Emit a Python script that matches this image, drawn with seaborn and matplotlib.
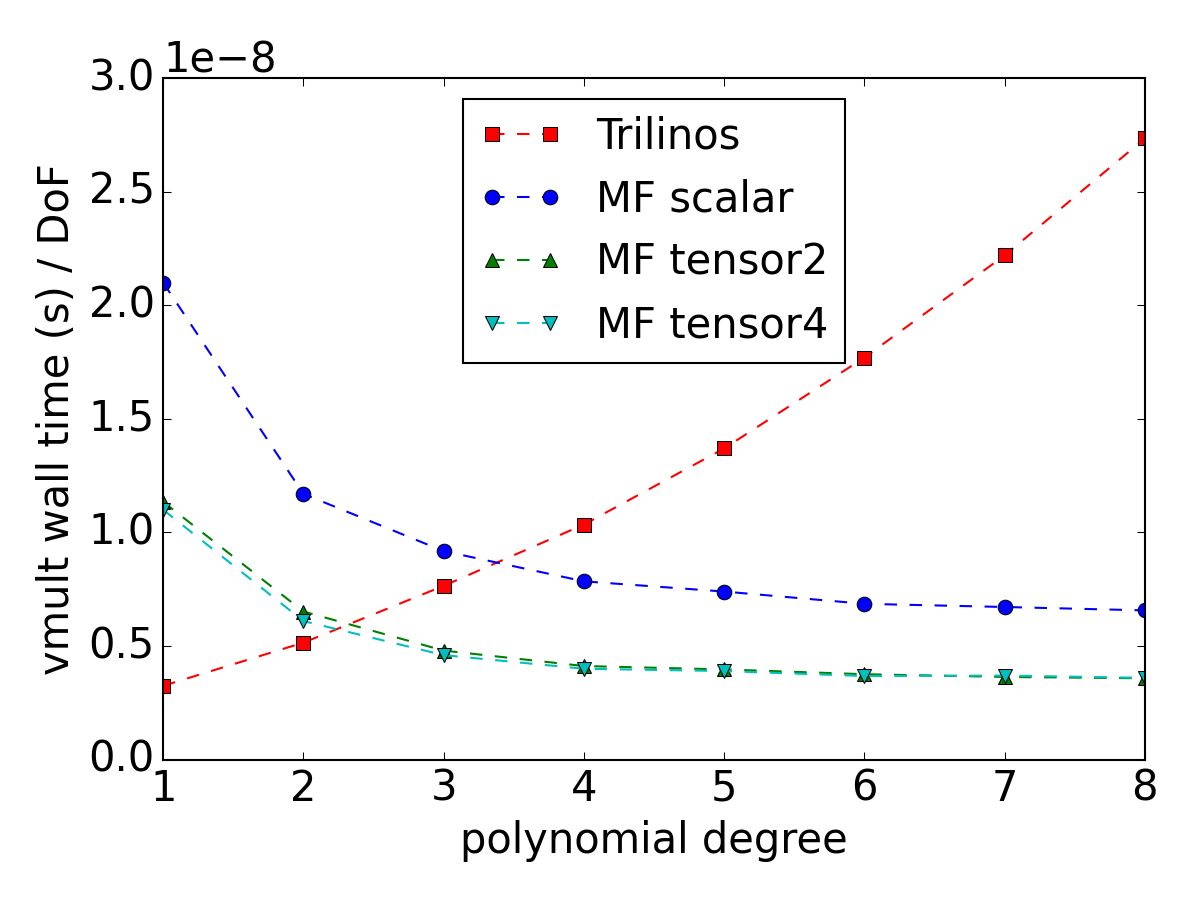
import numpy as np
import pandas as pd
import matplotlib
matplotlib.use("Agg")
import matplotlib.pyplot as plt
import seaborn as sns

# old matplotlib look (inward ticks, boxed legend)
plt.style.use("classic")
plt.rcParams["font.size"] = 20
plt.rcParams["font.family"] = ["DejaVu Sans"]
plt.rcParams["figure.facecolor"] = "white"

degree = [1, 2, 3, 4, 5, 6, 7, 8]
# wall time per DoF, in units of 1e-8 s
trilinos = [0.325, 0.515, 0.765, 1.035, 1.37, 1.77, 2.22, 2.735]
mf_scalar = [2.10, 1.17, 0.918, 0.785, 0.74, 0.686, 0.672, 0.657]
mf_tensor2 = [1.135, 0.652, 0.48, 0.412, 0.397, 0.376, 0.364, 0.358]
mf_tensor4 = [1.10, 0.61, 0.46, 0.40, 0.39, 0.368, 0.37, 0.36]

series = [
    ("Trilinos", trilinos, "r", "s"),
    ("MF scalar", mf_scalar, "b", "o"),
    ("MF tensor2", mf_tensor2, "g", "^"),
    ("MF tensor4", mf_tensor4, "c", "v"),
]

fig, ax = plt.subplots(figsize=(8, 6), dpi=150)
fig.subplots_adjust(left=0.136, right=0.954, bottom=0.156, top=0.913)

for name, vals, col, mk in series:
    sns.lineplot(x=degree, y=np.array(vals) * 1e-8, ax=ax, color=col,
                 marker=mk, linestyle="--", linewidth=1.0, markersize=7,
                 markeredgecolor="k", markeredgewidth=0.5, label=name)

ax.set_xlim(1, 8)
ax.set_ylim(0, 3e-8)
ax.set_xlabel("polynomial degree")
ax.set_ylabel("vmult wall time (s) / DoF")
ax.legend(loc="upper center", numpoints=2, fontsize=20)

fig.savefig("out.png", dpi=150)
